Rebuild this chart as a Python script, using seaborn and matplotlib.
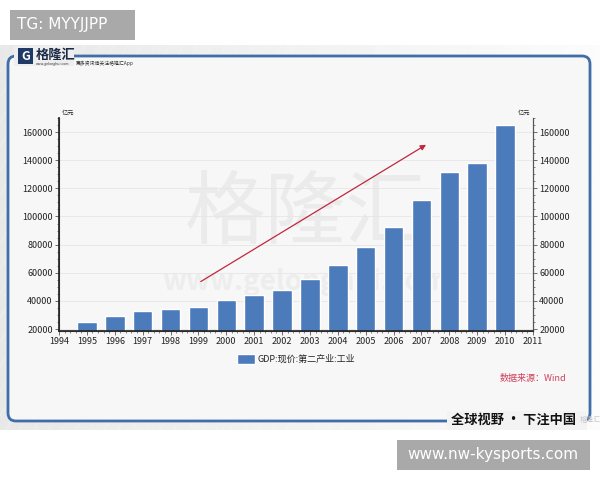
import numpy as np
import pandas as pd
import seaborn as sns
import matplotlib.pyplot as plt
from matplotlib.patches import FancyBboxPatch, Rectangle
from matplotlib.ticker import MultipleLocator

# values (亿元)
years = [1995, 1996, 1997, 1998, 1999, 2000, 2001, 2002,
         2003, 2004, 2005, 2006, 2007, 2008, 2009, 2010]
industry_gdp = [25000, 29400, 32900, 34000, 35900, 40300, 44200, 47800,
                55400, 65800, 78000, 92200, 111700, 131500, 138100, 165100]
y_ticks = [20000, 40000, 60000, 80000, 100000, 120000, 140000, 160000]
x_ticks = list(range(1994, 2012))
series_name = "GDP:现价:第二产业:工业"

sns.set_theme(style="white")
plt.rcParams['font.family'] = ['Noto Sans CJK SC', 'DejaVu Sans']
plt.rcParams['axes.unicode_minus'] = False

fig = plt.figure(figsize=(6, 4.8), dpi=100, facecolor='white')

# background / decoration layer in pixel coordinates
bg = fig.add_axes([0, 0, 1, 1], zorder=0)
bg.set_xlim(0, 600)
bg.set_ylim(480, 0)
bg.axis('off')

# screenshot background with a soft gradient
grad = np.linspace(0.91, 0.985, 256).reshape(1, -1)
grad = np.vstack([grad, grad])
bg.imshow(grad, cmap='gray', vmin=0, vmax=1, extent=(0, 600, 430, 45),
          aspect='auto', zorder=0)
for k in range(-400, 600, 14):
    bg.plot([k, k + 220], [430, 45], color='white', lw=0.5, alpha=0.35, zorder=0.5)
bg.add_patch(FancyBboxPatch((8, 56), 582, 365, boxstyle="round,pad=0,rounding_size=8",
                            fc='#f7f7f7', ec='#3f6ea8', lw=2, zorder=1))
# cover the frame where logo and slogan sit
bg.add_patch(Rectangle((14, 46), 60, 20, fc='#eeeeee', ec='none', zorder=1.2))
bg.add_patch(Rectangle((447, 411), 140, 19, fc='#f3f3f3', ec='none', zorder=1.2))

# watermark
bg.text(305, 215, "格隆汇", fontsize=58, color='#ebebeb', ha='center', va='center',
        zorder=1.5)
bg.text(305, 282, "www.gelonghui.com", fontsize=20, color='#ededed', ha='center',
        va='center', fontweight='bold', zorder=1.5)

# logo
bg.add_patch(Rectangle((18, 48), 15, 16, fc='#1f3a66', ec='none', zorder=2))
bg.text(25.5, 56.5, "G", fontsize=9, color='white', fontweight='bold', ha='center',
        va='center', zorder=3)
bg.text(36, 55, "格隆汇", fontsize=9.5, color='#1b2a44', fontweight='bold', va='center', zorder=3)
bg.text(36, 64, "www.gelonghui.com", fontsize=2.5, color='#333333', va='center', zorder=3)
bg.text(76, 63, "更多资讯请关注格隆汇App", fontsize=3.5, color='#333333', va='center', zorder=3)

# slogan and source
bg.text(451, 420, "全球视野 · 下注中国", fontsize=9.5, color='#111111', fontweight='bold',
        va='center', zorder=3)
bg.text(580, 420, "格隆汇", fontsize=5, color='#c8c8c8', va='center', zorder=3)
bg.text(500, 379, "数据来源：Wind", fontsize=6.5, color='#d0405a', style='italic',
        va='center', zorder=3)

# top and bottom gray labels
bg.add_patch(Rectangle((10, 10), 125, 30, fc='#a9a9a9', ec='none', zorder=3))
bg.text(17, 25, "TG: MYYJJPP", fontsize=11, color='white', va='center', zorder=4,
        family=['DejaVu Sans'])
bg.add_patch(Rectangle((397, 440), 193, 30, fc='#a9a9a9', ec='none', zorder=3))
bg.text(493, 455, "www.nw-kysports.com", fontsize=11, color='white', va='center',
        ha='center', zorder=4, family=['DejaVu Sans'])

# chart
ax = fig.add_axes([59 / 600, 149 / 480, 474 / 600, 213 / 480], zorder=5)
ax.set_facecolor('none')
df = pd.DataFrame({'year': years, 'value': industry_gdp})
sns.barplot(data=df, x='year', y='value', native_scale=True, width=0.7,
            color='#4b7bbb', saturation=1, label=series_name, ax=ax, zorder=3)
ax.set_xlim(1994, 2011)
ax.set_ylim(18580, 170000)
ax.set_xticks(x_ticks)
ax.set_xticklabels([str(x) for x in x_ticks])
ax.set_yticks(y_ticks)
ax.xaxis.set_minor_locator(MultipleLocator(0.2))
ax.yaxis.set_minor_locator(MultipleLocator(5000))
ax.set_xlabel('')
ax.set_ylabel('')
ax.grid(axis='y', color='#e6e6e6', lw=0.6, zorder=0)
for s in ['left', 'bottom', 'right']:
    ax.spines[s].set_color('#555555')
    ax.spines[s].set_linewidth(0.8)
ax.spines['top'].set_visible(False)
ax.tick_params(axis='both', which='major', direction='out', length=3, width=0.6,
               color='#555555', labelsize=6.5, pad=1.5, labelcolor='#222222')
ax.tick_params(axis='both', which='minor', direction='out', length=1.5, width=0.5,
               color='#555555')
ax.tick_params(axis='both', which='both', bottom=True, left=True)

ax2 = ax.twinx()
ax2.set_ylim(ax.get_ylim())
ax2.set_yticks(y_ticks)
ax2.yaxis.set_minor_locator(MultipleLocator(5000))
ax2.spines['top'].set_visible(False)
ax2.spines['right'].set_color('#555555')
ax2.spines['right'].set_linewidth(0.8)
ax2.tick_params(axis='y', which='major', direction='out', length=3, width=0.6,
                color='#555555', labelsize=6.5, pad=1.5, labelcolor='#222222', right=True)
ax2.tick_params(axis='y', which='minor', direction='out', length=1.5, width=0.5,
                color='#555555', right=True)

ax.text(0.005, 1.005, "亿元", transform=ax.transAxes, fontsize=4.5, va='bottom', ha='left')
ax.text(0.995, 1.005, "亿元", transform=ax.transAxes, fontsize=4.5, va='bottom', ha='right')

# trend arrow
ax.annotate('', xy=(2007.25, 152000), xytext=(1999.0, 52700),
            arrowprops=dict(arrowstyle='-|>', color='#c0283a', lw=0.9,
                            mutation_scale=8), zorder=6)

leg = ax.legend(loc='upper center', bbox_to_anchor=(0.5, -0.07), frameon=False,
                fontsize=6.5, handlelength=2.0, handleheight=1.3, handletextpad=0.3)

fig.savefig('out.png', dpi=100, facecolor='white')
